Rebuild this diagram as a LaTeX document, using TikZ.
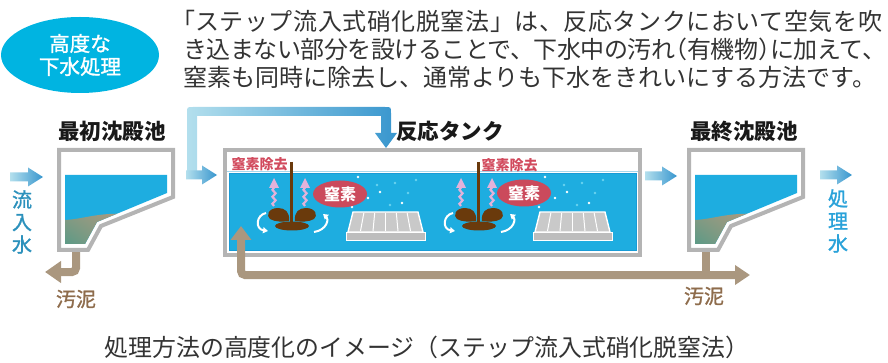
\documentclass[tikz,border=0pt]{standalone}
\usepackage{fontspec}
\setmainfont{Noto Sans CJK JP}
\newfontfamily\jpmedium{Noto Sans CJK JP}[FakeBold=1.3]
\usetikzlibrary{arrows.meta,decorations.pathmorphing,shapes.geometric,shadings}

\definecolor{badgecyan}{HTML}{00B4E1}
\definecolor{textgray}{HTML}{333333}
\definecolor{wallgray}{HTML}{B4B4B4}
\definecolor{waterblue}{HTML}{1EADE0}
\definecolor{wateredge}{HTML}{189BD6}
\definecolor{surfaceline}{HTML}{A6D7EC}
\definecolor{flowlight}{HTML}{B3DFED}
\definecolor{flowdark}{HTML}{3896CE}
\definecolor{sludgepipe}{HTML}{AA977F}
\definecolor{sludgetext}{HTML}{8E6C4C}
\definecolor{inflowtext}{HTML}{2C91BC}
\definecolor{outflowtext}{HTML}{2AA2D9}
\definecolor{nitrored}{HTML}{CB4A5C}
\definecolor{nitrotext}{HTML}{D24B5E}
\definecolor{mixerbrown}{HTML}{6A3A0C}
\definecolor{bubblepink}{HTML}{E3B2DA}
\definecolor{gratetop}{HTML}{C9C9C9}
\definecolor{gratebase}{HTML}{BDBDBD}
\definecolor{sludgegreen}{HTML}{5B9A86}
\definecolor{sludgetan}{HTML}{A99A7F}
\definecolor{bubblecyan}{HTML}{6AD3F0}

\newcommand{\halt}{\addfontfeature{RawFeature=+halt}}

% blue flow arrow: start x, tip x, centre y
\newcommand{\flowarrow}[3]{%
  \shade[left color=flowlight, right color=flowdark]
    (#1,#3-4.5) -- (#2-15,#3-4.5) -- (#2-15,#3-9.5) -- (#2,#3)
    -- (#2-15,#3+9.5) -- (#2-15,#3+4.5) -- (#1,#3+4.5) -- cycle;}

% settling tank with water and sludge, shifted by #1
\newcommand{\settler}[1]{%
  \begin{scope}[xshift=#1pt]
    \draw[tankwall] (59,150) -- (173,150) -- (173,197) -- (101,226)
      -- (88,250) -- (59,250) -- cycle;
    \fill[waterblue] (65,175) -- (167,175) -- (167,193) -- (97,222)
      -- (85,244) -- (65,244) -- cycle;
    \shade[upper left=sludgetan!55!sludgegreen, upper right=sludgetan,
           lower left=sludgegreen, lower right=sludgetan!70!sludgegreen]
      (65,220) .. controls (82,219) and (94,214) .. (117,213.7)
      -- (97,222) -- (85,244) -- (65,244) -- cycle;
  \end{scope}}

% surface aerator with rising bubbles and rotation arrows, shifted by #1
\newcommand{\mixer}[1]{%
  \begin{scope}[xshift=#1pt]
    \foreach \px in {274,305}{%
      \draw[bubblepink, line width=2.2pt, decorate,
            decoration={snake, amplitude=1.6pt, segment length=7pt}]
        (\px,206) -- (\px,187);
      \fill[bubblepink] (\px,178) -- (\px+5,188) -- (\px-5,188) -- cycle;}
    \draw[mixerbrown, line width=3pt] (291,162) -- (291,224);
    \fill[mixerbrown] (289,221) .. controls (290,212) and (285,208) .. (278,208)
      .. controls (268,208) and (266,216) .. (270,219)
      .. controls (275,222) and (283,222) .. (289,221) -- cycle;
    \fill[mixerbrown] (295,221) .. controls (294,212) and (299,208) .. (306,208)
      .. controls (316,208) and (318,216) .. (314,219)
      .. controls (309,222) and (301,222) .. (295,221) -- cycle;
    \fill[mixerbrown] (292,226) ellipse [x radius=17pt, y radius=4.5pt];
    \draw[rotarrow] (266,213) .. controls (256,215) and (255,229) .. (268,231);
    \draw[rotarrow] (314,232) .. controls (327,230) and (329,219) .. (323,214);
  \end{scope}}

% diffuser grate, shifted by #1
\newcommand{\grate}[1]{%
  \begin{scope}[xshift=#1pt]
    \fill[gratebase, draw=white, line width=0.8pt] (346,232) rectangle (425,240);
    \fill[gratetop, draw=white, line width=1.4pt]
      (353,212) -- (418,212) -- (423,232) -- (348,232) -- cycle;
    \foreach \k in {1,...,5}{%
      \draw[white, line width=1pt] (353+\k*65/6,213) -- (348+\k*75/6,231);}
    \foreach \bx/\by/\bc in {358/177/white, 395/183/bubblecyan, 380/192/white,
        408/193/bubblecyan, 402/203/white, 390/205/bubblecyan,
        416/180/bubblecyan, 377/185/bubblecyan, 368/198/white, 352/207/white}{%
      \fill[\bc] (\bx,\by) circle [radius=1.3pt];}
  \end{scope}}

\tikzset{
  tankwall/.style={draw=wallgray, line width=4pt, fill=white, line join=miter},
  sludgeline/.style={draw=sludgepipe, line width=8pt, rounded corners=4pt},
  rotarrow/.style={draw=white, line width=2pt,
    -{Triangle[length=5pt,width=6pt]}},
  descline/.style={anchor=base west, inner sep=0pt, text=textgray,
    font=\fontsize{24}{28}\selectfont},
  headlabel/.style={font=\bfseries\fontsize{21.5}{24}\selectfont, text=black!90},
  vlabel/.style={align=center, font=\jpmedium\fontsize{20}{22.5}\selectfont},
  sludgelabel/.style={font=\jpmedium\fontsize{20}{22}\selectfont, text=sludgetext},
  nitrolabel/.style={font=\bfseries\fontsize{14}{14}\selectfont, text=nitrotext},
  nitrobadge/.style={ellipse, fill=nitrored, minimum width=54pt,
    minimum height=27pt, inner sep=0pt, text=white,
    font=\bfseries\fontsize{16}{16}\selectfont},
}

\begin{document}
\begin{tikzpicture}[x=1pt,y=-1pt]
\useasboundingbox (0,0) rectangle (888,363);

% badge
\node[ellipse, fill=badgecyan, minimum width=158pt, minimum height=76pt,
      inner sep=0pt, text=white, align=center,
      font=\jpmedium\fontsize{20.5}{23}\selectfont] (badge) at (80,55) {高度な\\下水処理};

% description, three lines set to a common width by tracking
\node[descline] (desc1) at (183,31)
  {\addfontfeature{LetterSpace=2.4}{\halt 「}ステップ流入式硝化脱窒法」は、反応タンクにおいて空気を吹};
\node[descline] (desc2) at (183,58.7)
  {\addfontfeature{LetterSpace=-2.1}き込まない部分を設けることで、下水中の汚れ{\halt （}有機物{\halt ）}に加えて、};
\node[descline] (desc3) at (183,86.4)
  {窒素も同時に除去し、通常よりも下水をきれいにする方法です。};

% tank titles
\node[headlabel] (firsttitle) at (112,131) {最初沈殿池};
\node[headlabel] (reacttitle) at (450,131) {反応タンク};
\node[headlabel] (finaltitle) at (744,131) {最終沈殿池};

% reaction tank
\draw[tankwall] (225,150) rectangle (640,255);
\fill[waterblue, draw=wateredge, line width=1pt] (229,174) rectangle (636,251);
\draw[surfaceline, line width=1pt] (227,172) -- (638,172);
\mixer{0}
\mixer{187}
\grate{0}
\grate{187}
\node[nitrobadge] (nitro1) at (340,194) {窒素};
\node[nitrobadge] (nitro2) at (524,193) {窒素};
\node[nitrolabel] (removal1) at (259.5,164) {窒素除去};
\node[nitrolabel] (removal2) at (509.5,165) {窒素除去};

% step feed line from the primary tank
\shade[left color=flowlight, right color=flowdark]
  (187,171) -- (187,113) .. controls (187,107) .. (193,107) -- (385,107)
  .. controls (391,107) .. (391,113) -- (391,133) -- (397,133) -- (386,148)
  -- (375,133) -- (381,133) -- (381,116) -- (197,116) -- (197,171) -- cycle;

% returned sludge and excess sludge
\draw[sludgeline, {Triangle[length=14pt,width=20pt]}-{Triangle[length=15pt,width=19pt]}]
  (241,226) -- (241,275) -- (750,275);
\draw[sludgeline] (706,250) -- (706,275);
\draw[sludgeline, -{Triangle[length=16pt,width=21pt]}] (76,250) -- (76,272) -- (45,272);

% settling tanks
\settler{0}
\settler{630}

% water flow arrows
\flowarrow{10}{43}{177}
\flowarrow{186}{217}{175}
\flowarrow{645}{677}{176}
\flowarrow{820}{852}{175}

% side labels
\node[vlabel, text=inflowtext] (inflow) at (22,222) {流\\入\\水};
\node[vlabel, text=outflowtext] (outflow) at (838,221) {処\\理\\水};
\node[sludgelabel] (sludge1) at (76,299) {汚泥};
\node[sludgelabel] (sludge2) at (704,296) {汚泥};

% caption
\node[text=textgray, font=\fontsize{23.9}{28}\selectfont] (caption) at (427,347)
  {処理方法の高度化のイメージ（ステップ流入式硝化脱窒法）};
\end{tikzpicture}
\end{document}
